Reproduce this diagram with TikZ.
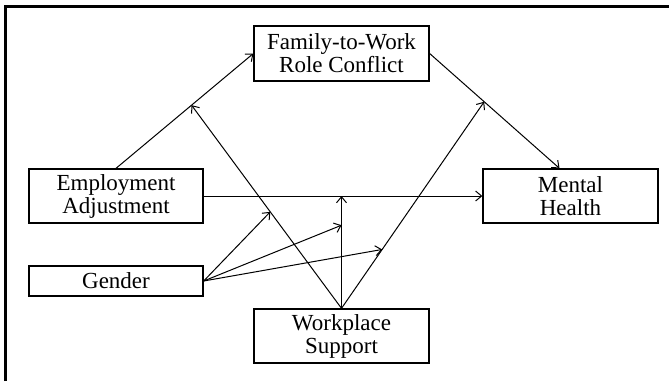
\documentclass[tikz,border=0pt]{standalone}
\usepackage{fontspec}
\setmainfont{Liberation Serif}
\usepackage{tikz}
\usetikzlibrary{arrows.meta,calc}

\tikzset{
  varbox/.style={draw, line width=1.3pt, align=center, inner sep=0pt,
    minimum width=175pt, font=\fontsize{23}{23}\selectfont},
  path/.style={->, line width=1pt}
}

\begin{document}
\begin{tikzpicture}[x=1pt, y=-1pt, >={Straight Barb[length=6pt,width=10pt]}]
	\useasboundingbox (0,0) rectangle (669,381);
	\draw[line width=2.5pt] (5.5,381) -- (5.5,6.5) -- (669,6.5);
	\node[varbox, minimum height=55pt] (fwc) at (341.5,53.5) {Family-to-Work\\Role Conflict};
	\node[varbox, minimum height=54pt, minimum width=174pt] (ea) at (116,196) {Employment\\Adjustment};
	\node[varbox, minimum height=54pt] (mh) at (570.5,196) {Mental\\Health};
	\node[varbox, minimum height=30pt, minimum width=174pt] (gen) at (116,281) {Gender};
	\node[varbox, minimum height=54pt] (ws) at (341.5,336) {Workplace\\Support};
	\coordinate (mhtop) at ([xshift=-11pt]mh.north);
	\draw[path] (ea.north) -- (fwc.west);
	\draw[path] (fwc.east) -- (mhtop);
	\draw[path] (ea.east) -- (mh.west);
	% moderation by workplace support
	\coordinate (m1) at ($(ea.north)!0.55!(fwc.west)$);
	\coordinate (m2) at ($(fwc.east)!0.42!(mhtop)$);
	\coordinate (m3) at (ws.north |- ea.east);
	\draw[path] (ws.north) -- (m1);
	\draw[path] (ws.north) -- (m2);
	\draw[path] (ws.north) -- (m3);
	% gender
	\draw[path] (gen.east) -- ($(ws.north)!0.475!(m1)$);
	\draw[path] (gen.east) -- ($(ws.north)!0.74!(m3)$);
	\draw[path] (gen.east) -- ($(ws.north)!0.285!(m2)$);
\end{tikzpicture}
\end{document}
